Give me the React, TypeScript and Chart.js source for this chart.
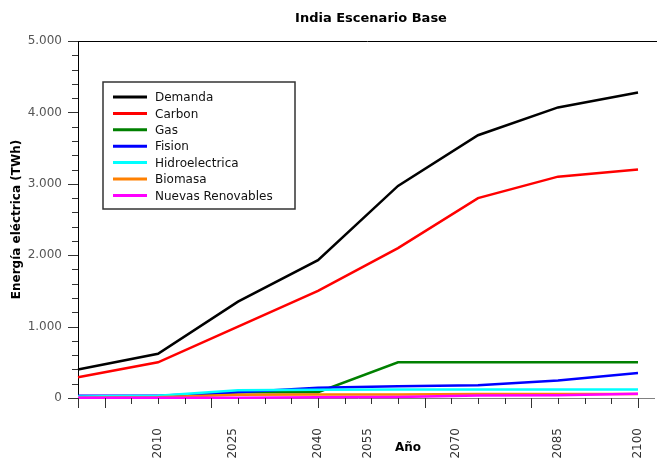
import React, { useEffect, useRef } from 'react';
import { Chart, registerables } from 'chart.js';
Chart.register(...registerables);

const years = [1995, 2010, 2025, 2040, 2055, 2070, 2085, 2100];
const tickLabels = ['2010', '2025', '2040', '2055', '2070', '2085', '2100'];
const tickLabelPositions = [2010, 2024, 2040, 2049.4, 2065.8, 2085, 2100];
const yTickValues = [0, 1000, 2000, 3000, 4000, 5000];

const demanda = [400, 620, 1350, 1930, 2970, 3680, 4070, 4280];
const carbon = [290, 500, 1000, 1500, 2100, 2800, 3100, 3200];
const gas = [10, 15, 80, 80, 500, 500, 500, 500];
const fision = [30, 30, 80, 145, 165, 180, 245, 350];
const hidro = [20, 30, 110, 115, 120, 120, 120, 120];
const biomasa = [5, 10, 45, 50, 50, 55, 55, 55];
const nuevas = [5, 5, 5, 10, 15, 35, 40, 60];

const seriesNames = ['Demanda', 'Carbon', 'Gas', 'Fision', 'Hidroelectrica', 'Biomasa', 'Nuevas Renovables'];
const seriesColors = ['#000000', '#ff0000', '#008000', '#0000ff', '#00ffff', '#ff8000', '#ff00ff'];
const seriesData = [demanda, carbon, gas, fision, hidro, biomasa, nuevas];

const FONT = "'DejaVu Sans', sans-serif";

export default function App() {
  const ref = useRef<HTMLCanvasElement>(null);
  useEffect(() => {
    const canvas = ref.current!;
    const decor = {
      id: 'decor',
      afterDraw(chart: any) {
        const c = chart.ctx;
        const { left, right, top, bottom } = chart.chartArea;
        const xs = chart.scales.x;
        const ys = chart.scales.y;
        c.save();
        // top border
        c.strokeStyle = '#000';
        c.lineWidth = 1;
        c.beginPath();
        c.moveTo(left, top + 0.5);
        c.lineTo(657, top + 0.5);
        c.stroke();
        // x-axis extension
        c.strokeStyle = '#808080';
        c.beginPath();
        c.moveTo(right, bottom + 0.5);
        c.lineTo(655, bottom + 0.5);
        c.stroke();
        // y ticks
        c.strokeStyle = '#333';
        for (let v = 0; v <= 5000; v += 200) {
          const y = Math.round(ys.getPixelForValue(v)) + 0.5;
          const len = v % 1000 === 0 ? 10 : 6;
          c.beginPath();
          c.moveTo(left - len, y);
          c.lineTo(left, y);
          c.stroke();
        }
        // x ticks
        for (let yr = 1995; yr <= 2100; yr += 5) {
          const x = Math.round(xs.getPixelForValue(yr)) + 0.5;
          const len = yr === 1995 || (yr - 2000) % 20 === 0 ? 10 : 6;
          c.beginPath();
          c.moveTo(x, bottom);
          c.lineTo(x, bottom + len);
          c.stroke();
        }
        // title
        c.fillStyle = '#000';
        c.font = `bold 13px ${FONT}`;
        c.textAlign = 'center';
        c.textBaseline = 'middle';
        c.fillText('India Escenario Base', 371, 19);
        // x title
        c.font = `bold 12px ${FONT}`;
        c.fillText('Año', 408, 448);
        // legend
        const bx = 103, by = 82, bw = 192, bh = 127;
        c.fillStyle = '#fff';
        c.fillRect(bx, by, bw, bh);
        c.strokeStyle = '#333';
        c.lineWidth = 1.5;
        c.strokeRect(bx, by, bw, bh);
        c.font = `12px ${FONT}`;
        c.textAlign = 'left';
        chart.data.datasets.forEach((ds: any, i: number) => {
          const ry = 97 + i * 16.4;
          c.strokeStyle = ds.borderColor;
          c.lineWidth = 3;
          c.beginPath();
          c.moveTo(113, ry);
          c.lineTo(147, ry);
          c.stroke();
          c.fillStyle = '#111';
          c.fillText(ds.label, 155, ry + 1);
        });
        c.restore();
      },
    };
    const chart = new Chart(canvas, {
      type: 'line',
      data: {
        datasets: seriesNames.map((n, i) => ({
          label: n,
          data: years.map((yr, j) => ({ x: yr, y: seriesData[i][j] })),
          borderColor: seriesColors[i],
          backgroundColor: seriesColors[i],
          borderWidth: 2.5,
          pointRadius: 0,
          tension: 0,
          clip: 6,
          order: seriesNames.length - i,
        })),
      },
      options: {
        animation: false,
        responsive: false,
        layout: { padding: { left: 0, right: 19, top: 41, bottom: 0 } },
        plugins: {
          legend: { display: false },
          title: { display: false },
          tooltip: { enabled: false },
        },
        scales: {
          x: {
            type: 'linear',
            min: 1995,
            max: 2100,
            afterBuildTicks: (s: any) => {
              s.ticks = tickLabelPositions.map((v) => ({ value: v }));
            },
            afterFit: (s: any) => {
              s.height = 66;
              s.paddingLeft = 0;
              s.paddingRight = 0;
            },
            ticks: {
              autoSkip: false,
              minRotation: 90,
              maxRotation: 90,
              padding: 30,
              color: '#333',
              font: { family: FONT, size: 12 },
              callback: (v: any, i: number) => tickLabels[i],
            },
            grid: { display: false, drawTicks: false },
            border: { display: true, color: '#808080' },
          },
          y: {
            min: 0,
            max: 5000,
            afterBuildTicks: (s: any) => {
              s.ticks = yTickValues.map((v) => ({ value: v }));
            },
            afterFit: (s: any) => {
              s.width = 78;
            },
            ticks: {
              padding: 16,
              color: '#555',
              font: { family: FONT, size: 12 },
              callback: (v: any) => Number(v).toLocaleString('de-DE'),
            },
            grid: { display: false, drawTicks: false },
            border: { display: true, color: '#000' },
            title: {
              display: true,
              text: 'Energía eléctrica (TWh)',
              color: '#000',
              font: { family: FONT, size: 12, weight: 'bold' },
              padding: { top: 10, bottom: 0 },
            },
          },
        },
      },
      plugins: [decor],
    } as any);
    return () => chart.destroy();
  }, []);
  return (
    <div style={{ position: 'fixed', left: 0, top: 0, width: 657, height: 464, background: '#fff' }}>
      <canvas ref={ref} width={657} height={464} style={{ display: 'block' }} />
    </div>
  );
}
